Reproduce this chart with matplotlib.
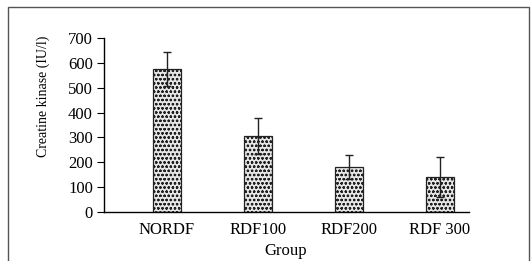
import matplotlib
matplotlib.use("Agg")
import matplotlib.pyplot as plt
from matplotlib.patches import Rectangle

groups = ["NORDF", "RDF100", "RDF200", "RDF 300"]
means = [575, 305, 181, 141]
errors = [67, 73, 48, 80]
yticks = [0, 100, 200, 300, 400, 500, 600, 700]

plt.rcParams['font.family'] = ['Liberation Serif', 'DejaVu Serif']
plt.rcParams['hatch.linewidth'] = 0.6
plt.rcParams['hatch.color'] = '#333333'

W, H = 531, 261
fig = plt.figure(figsize=(W/100, H/100), dpi=100)
ax = fig.add_axes([104/W, 1-212/H, (469-104)/W, (212-38)/H])

x = list(range(len(groups)))
ax.bar(x, means, width=0.31, color='#e6e6e6', edgecolor='#222222', linewidth=0.9,
       hatch='oooo', yerr=errors, capsize=3,
       error_kw=dict(ecolor='#222222', elinewidth=1.0, capthick=1.0))

ax.set_xlim(-0.69, 3.32)
ax.set_ylim(0, 700)
ax.set_yticks(yticks)
ax.set_xticks(x)
ax.set_xticklabels(groups, fontsize=12)
ax.tick_params(axis='x', length=0, pad=7)
ax.tick_params(axis='y', direction='out', length=5, labelsize=12, pad=3)
ax.spines['top'].set_visible(False)
ax.spines['right'].set_visible(False)
ax.spines['left'].set_linewidth(1.0)
ax.spines['bottom'].set_linewidth(1.0)

fig.text(43/W, 1-96/H, "Creatine kinase (IU/l)", rotation=90, ha='center', va='center', fontsize=10)
fig.text(286/W, 1-251/H, "Group", ha='center', va='center', fontsize=12)

fig.patches.append(Rectangle((8/W, -0.1), (529-8)/W, 1.1-7/H, transform=fig.transFigure,
                             fill=False, edgecolor='#555555', linewidth=1.0))

fig.savefig("out.png", dpi=100)
